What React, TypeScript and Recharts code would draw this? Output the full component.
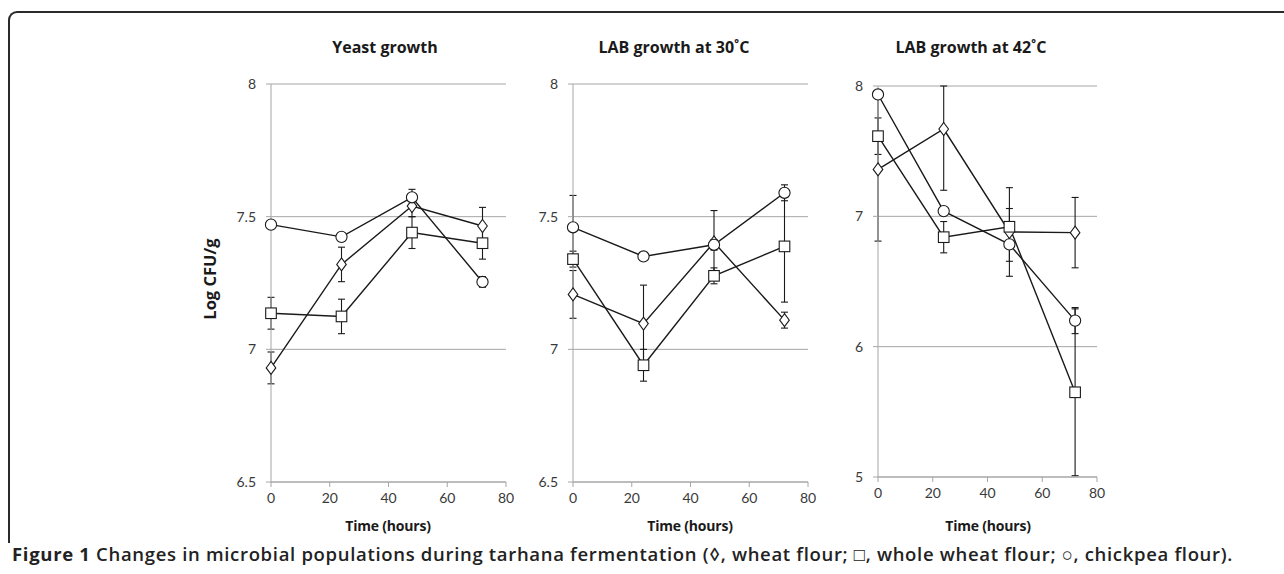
import React from 'react'
import { LineChart, Line, XAxis, YAxis, CartesianGrid, ErrorBar } from 'recharts'

// sampling times (hours)
const hours = [0, 24, 48, 72]

// Yeast growth
const yeastWheat = [6.93, 7.32, 7.54, 7.465]
const yeastWheatErr = [0.06, 0.065, 0.04, 0.07]
const yeastWhole = [7.136, 7.124, 7.44, 7.4]
const yeastWholeErr = [0.06, 0.065, 0.06, 0.06]
const yeastChick = [7.47, 7.424, 7.573, 7.254]
const yeastChickErr = [0.005, 0.01, 0.03, 0.02]

// LAB growth at 30 C
const lab30Wheat = [7.207, 7.097, 7.403, 7.11]
const lab30WheatErr = [0.09, 0.145, 0.12, 0.03]
const lab30Whole = [7.34, 6.94, 7.277, 7.388]
const lab30WholeErr = [0.03, 0.06, 0.03, 0.21]
const lab30Chick = [7.46, 7.35, 7.394, 7.59]
const lab30ChickErr = [0.12, 0.01, 0.02, 0.03]

// LAB growth at 42 C (the 24 h wheat bar runs off the top of the axis, so only what is visible is kept)
const lab42Wheat = [7.36, 7.67, 6.88, 6.875]
const lab42WheatErr = [0.55, [0.47, 0.33], 0.34, 0.27]
const lab42Whole = [7.615, 6.84, 6.92, 5.65]
const lab42WholeErr = [0.14, 0.12, 0.14, 0.64]
const lab42Chick = [7.935, 7.04, 6.785, 6.2]
const lab42ChickErr = [0.02, 0.02, 0.13, 0.1]

const xTicks = [0, 20, 40, 60, 80]
const yTicksLow = [6.5, 7, 7.5, 8]
const yTicksWide = [5, 6, 7, 8]

const panelTitles = ['Yeast growth', 'LAB growth at 30˚C', 'LAB growth at 42˚C']
const xTitle = 'Time (hours)'
const yTitle = 'Log CFU/g'

const buildRows = (w, we, h, he, c, ce) =>
  hours.map((t, i) => ({
    t,
    wheat: w[i],
    wheatErr: we[i],
    whole: h[i],
    wholeErr: he[i],
    chick: c[i],
    chickErr: ce[i],
  }))

const yeastRows = buildRows(yeastWheat, yeastWheatErr, yeastWhole, yeastWholeErr, yeastChick, yeastChickErr)
const lab30Rows = buildRows(lab30Wheat, lab30WheatErr, lab30Whole, lab30WholeErr, lab30Chick, lab30ChickErr)
const lab42Rows = buildRows(lab42Wheat, lab42WheatErr, lab42Whole, lab42WholeErr, lab42Chick, lab42ChickErr)

const INK = '#1a1a1a'
const AXIS = '#a6a6a6'
const TICK_TEXT = '#3a3a3a'

const DiamondDot = (props) => {
  const { cx, cy, key } = props
  if (cx == null || cy == null) return <g key={key} />
  return (
    <path
      key={key}
      d={`M${cx},${cy - 6.5} L${cx + 4.8},${cy} L${cx},${cy + 6.5} L${cx - 4.8},${cy} Z`}
      fill="#fff"
      stroke={INK}
      strokeWidth={1.1}
    />
  )
}

const SquareDot = (props) => {
  const { cx, cy, key } = props
  if (cx == null || cy == null) return <g key={key} />
  return (
    <rect key={key} x={cx - 5.3} y={cy - 5.3} width={10.6} height={10.6} fill="#fff" stroke={INK} strokeWidth={1.1} />
  )
}

const CircleDot = (props) => {
  const { cx, cy, key } = props
  if (cx == null || cy == null) return <g key={key} />
  return <circle key={key} cx={cx} cy={cy} r={5.6} fill="#fff" stroke={INK} strokeWidth={1.1} />
}

function Panel({ rows, left, top, width, height, yTicks }) {
  const tickStyle = { fill: TICK_TEXT, fontSize: 14, fontFamily: 'Lato' }
  return (
    <div style={{ position: 'absolute', left, top }}>
      <LineChart width={width} height={height} data={rows} margin={{ top: 10, right: 20, left: 0, bottom: 0 }}>
        <CartesianGrid vertical={false} stroke={AXIS} strokeWidth={1} />
        <XAxis
          dataKey="t"
          type="number"
          domain={[0, 80]}
          ticks={xTicks}
          stroke={AXIS}
          tickSize={5}
          tickMargin={6}
          height={30}
          tick={tickStyle}
          tickLine={{ stroke: AXIS }}
        />
        <YAxis
          type="number"
          domain={[yTicks[0], yTicks[yTicks.length - 1]]}
          ticks={yTicks}
          allowDataOverflow
          stroke={AXIS}
          tickSize={5}
          tickMargin={10}
          width={51}
          tick={tickStyle}
          tickLine={{ stroke: AXIS }}
        />
        <Line dataKey="wheat" stroke={INK} strokeWidth={1.4} dot={DiamondDot} isAnimationActive={false} />
        <Line dataKey="whole" stroke={INK} strokeWidth={1.4} dot={SquareDot} isAnimationActive={false} />
        <Line dataKey="chick" stroke={INK} strokeWidth={1.4} dot={CircleDot} isAnimationActive={false} />
        <Line dataKey="wheat" stroke="none" dot={false} activeDot={false} isAnimationActive={false}>
          <ErrorBar dataKey="wheatErr" width={3.5} stroke={INK} strokeWidth={1.1} isAnimationActive={false} />
        </Line>
        <Line dataKey="whole" stroke="none" dot={false} activeDot={false} isAnimationActive={false}>
          <ErrorBar dataKey="wholeErr" width={3.5} stroke={INK} strokeWidth={1.1} isAnimationActive={false} />
        </Line>
        <Line dataKey="chick" stroke="none" dot={false} activeDot={false} isAnimationActive={false}>
          <ErrorBar dataKey="chickErr" width={3.5} stroke={INK} strokeWidth={1.1} isAnimationActive={false} />
        </Line>
      </LineChart>
    </div>
  )
}

const textBase = { position: 'absolute', fontFamily: '"Open Sans"', color: '#1a1a1a', whiteSpace: 'nowrap' }

export default function App() {
  return (
    <div style={{ position: 'absolute', left: 0, top: 0, width: 1284, height: 574, background: '#fff', overflow: 'hidden' }}>
      <div
        style={{
          position: 'absolute',
          left: 8,
          top: 11,
          width: 1300,
          height: 530,
          borderTop: '2px solid #2a2a2a',
          borderLeft: '2px solid #2a2a2a',
          borderTopLeftRadius: 9,
        }}
      />

      <Panel rows={yeastRows} left={220} top={74} width={306} height={438} yTicks={yTicksLow} />
      <Panel rows={lab30Rows} left={522} top={74} width={306} height={438} yTicks={yTicksLow} />
      <Panel rows={lab42Rows} left={827} top={76} width={290} height={431} yTicks={yTicksWide} />

      {[385, 674, 971].map((cx, i) => (
        <div key={i} style={{ ...textBase, left: cx, top: 36, transform: 'translateX(-50%)', fontSize: 16, fontWeight: 700 }}>
          {panelTitles[i]}
        </div>
      ))}

      {[388, 690, 988].map((cx, i) => (
        <div
          key={i}
          style={{ ...textBase, left: cx, top: 516, transform: 'translateX(-50%)', fontSize: 14, fontWeight: 700, letterSpacing: -0.2 }}
        >
          {xTitle}
        </div>
      ))}

      <div
        style={{
          ...textBase,
          left: 209,
          top: 279,
          transform: 'translate(-50%, -50%) rotate(-90deg)',
          fontSize: 16.5,
          fontWeight: 700,
        }}
      >
        {yTitle}
      </div>

      <div style={{ ...textBase, left: 12, top: 541, fontSize: 18.5, fontWeight: 600, color: '#222', letterSpacing: 0.68 }}>
        <span style={{ fontWeight: 700 }}>Figure 1</span> Changes in microbial populations during tarhana fermentation (◊, wheat flour; □, whole wheat flour; ○, chickpea flour).
      </div>
    </div>
  )
}
